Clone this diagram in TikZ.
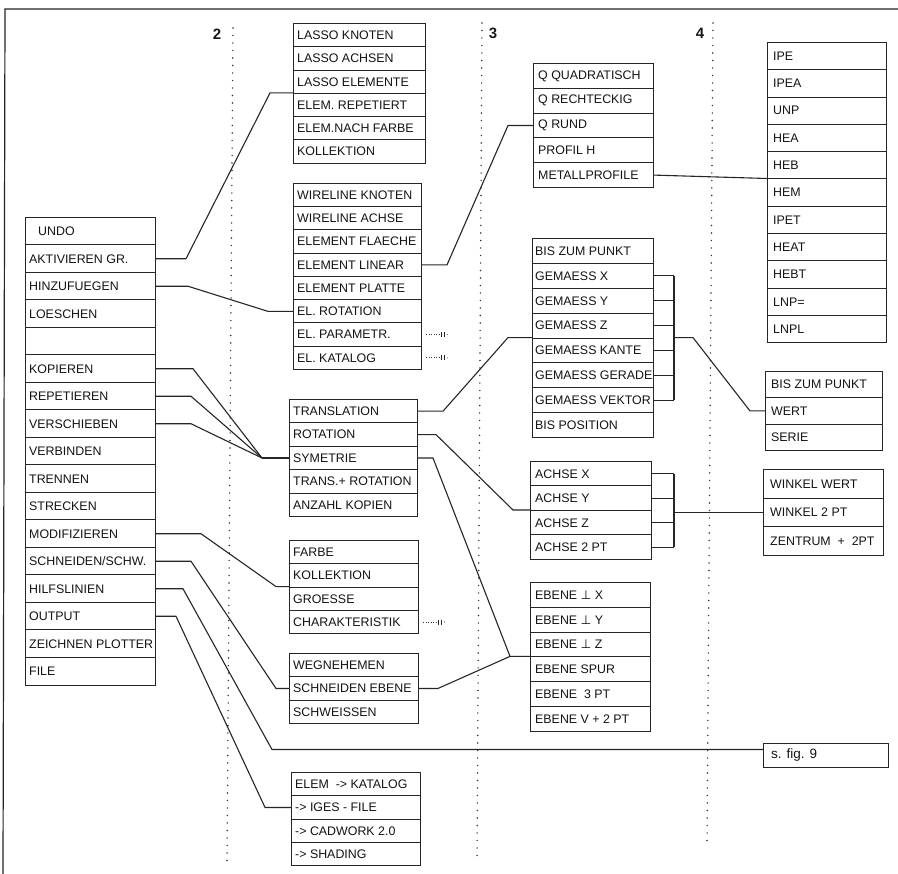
\documentclass[tikz,border=0pt]{standalone}
\usepackage{fontspec}
\setmainfont{Liberation Sans}
\newfontfamily\dejavu{DejaVu Sans}
\usetikzlibrary{calc}
\newcommand\perpsym{{\dejavu\char"22A5}}
% name, xleft, xright, ytop, rowheight, pad, list
\newcommand\stackbox[7]{%
  \foreach \txt [count=\i] in {#7} {%
    \node[rowbox, minimum width=#3-#2, minimum height=#5, anchor=north west] (#1\i) at (#2, {#4+(\i-1)*#5}) {};
    \node[rowtext, anchor=west] at ($(#1\i.west)+(#6,0)$) {\txt};
  }%
}
\newcommand\terminator[1]{%
  \draw[line width=.8pt, dash pattern=on 1pt off 1.6pt, draw=black!80] ($(#1.east)+(4,0)$) -- ++(14,0);
  \draw[line width=1.3pt, draw=black!85] ($(#1.east)+(19.5,-2.5)$) -- ++(0,5);
  \draw[line width=1.3pt, draw=black!85] ($(#1.east)+(22.5,-2.5)$) -- ++(0,5);
  \fill[black!70] ($(#1.east)+(25.5,0)$) circle (0.6);
}
\begin{document}
\begin{tikzpicture}[x=1pt,y=-1pt,
  rowbox/.style={draw=black!85, line width=1pt, inner sep=0pt, rectangle},
  rowtext/.style={inner sep=0pt, font=\fontsize{12.4}{14}\selectfont, text=black!92},
  conn/.style={draw=black!85, line width=1.1pt},
  guide/.style={draw=black!80, line width=1.6pt, dash pattern=on 0pt off 7.5pt, line cap=round},
  numlab/.style={font=\fontsize{15}{17}\selectfont\bfseries, text=black!90, inner sep=0pt}]
\useasboundingbox (0,0) rectangle (898,874);
\fill[white] (0,0) rectangle (898,874);

% frame
\draw[draw=black!85, line width=1.2pt] (898,9) -- (5,9) -- (3,874);

% guide lines
\draw[guide] (233,28) -- (227,862);
\draw[guide] (482,23) -- (477,862);
\draw[guide] (713,23) -- (707,842);
\node[numlab] (n2) at (217,34) {2};
\node[numlab] (n3) at (493,33) {3};
\node[numlab] (n4) at (700,33) {4};

% boxes
\stackbox{M}{25}{155}{217}{27.5}{4}{\hspace{9pt}UNDO, AKTIVIEREN GR., HINZUFUEGEN, LOESCHEN, {}, KOPIEREN, REPETIEREN, VERSCHIEBEN, VERBINDEN, TRENNEN, STRECKEN, MODIFIZIEREN, {SCHNEIDEN/SCHW.}, HILFSLINIEN, OUTPUT, ZEICHNEN PLOTTER, FILE}
\stackbox{A}{293}{425}{23}{23.3}{4}{LASSO KNOTEN, LASSO ACHSEN, LASSO ELEMENTE, ELEM. REPETIERT, ELEM.NACH FARBE, KOLLEKTION}
\stackbox{B}{293}{421}{183}{23.25}{4}{WIRELINE KNOTEN, WIRELINE ACHSE, ELEMENT FLAECHE, ELEMENT LINEAR, ELEMENT PLATTE, EL. ROTATION, EL. PARAMETR., EL. KATALOG}
\stackbox{C}{533}{653}{63}{24.8}{5}{Q QUADRATISCH, Q RECHTECKIG, Q RUND, PROFIL H, METALLPROFILE}
\stackbox{D}{289}{417}{399}{23.4}{4}{TRANSLATION, ROTATION, SYMETRIE, TRANS.+ ROTATION, ANZAHL KOPIEN}
\stackbox{E}{532}{653}{238}{24.9}{3}{BIS ZUM PUNKT, GEMAESS X, GEMAESS Y, GEMAESS Z, GEMAESS KANTE, GEMAESS GERADE, GEMAESS VEKTOR, BIS POSITION}
\stackbox{F}{765}{882}{371}{26.3}{6}{BIS ZUM PUNKT, WERT, SERIE}
\stackbox{G}{767}{886}{42}{27.3}{6}{IPE, IPEA, UNP, HEA, HEB, HEM, IPET, HEAT, HEBT, LNP=, LNPL}
\stackbox{H}{530}{651}{461}{24.5}{5}{ACHSE X, ACHSE Y, ACHSE Z, ACHSE 2 PT}
\stackbox{I}{763}{883}{469}{28.7}{7}{WINKEL WERT, WINKEL 2 PT, ZENTRUM~ +~ 2PT}
\stackbox{J}{530}{650}{582}{24.8}{5}{EBENE \perpsym{} X, EBENE \perpsym{} Y, EBENE \perpsym{} Z, EBENE SPUR, EBENE~ 3 PT, EBENE V + 2 PT}
\stackbox{L}{289}{418}{540}{23.3}{4}{FARBE, KOLLEKTION, GROESSE, CHARAKTERISTIK}
\stackbox{K}{289}{418}{653}{23.3}{4}{WEGNEHEMEN, SCHNEIDEN EBENE, SCHWEISSEN}
\stackbox{N}{291}{420}{772}{23.3}{4}{ELEM~ -> KATALOG, -> IGES - FILE, -> CADWORK 2.0, -> SHADING}

\node[rowbox, minimum width=125, minimum height=24, anchor=north west] (sfig) at (763,743) {};
\node[rowtext, font=\fontsize{13.5}{15}\selectfont, anchor=west] (sfigt) at ($(sfig.west)+(8,0)$) {s. fig. 9};

% terminators
\terminator{B7}
\terminator{B8}
\terminator{L4}

% connectors
\draw[conn] (M2.east) -- ++(30,0) -- ($(A4.north west)+(-23,0)$) -- (A4.north west);
\draw[conn] (M3.east) -- ++(32,0) -- ($(B6.west)+(-25,0)$) -- (B6.west);
\draw[conn] (B4.east) -- ++(25,0) -- ($(C3.west)+(-25,0)$) -- (C3.west);
\draw[conn] (C5.east) -- (G6.north west);

\coordinate (sj) at ($(D3.west)+(-27,0)$);
\draw[conn] (M6.east) -- ++(37,0) -- (sj);
\draw[conn] (M7.east) -- ++(35,0) -- (sj);
\draw[conn] (M8.east) -- ++(35,0) -- (sj);
\draw[conn] (sj) -- (D3.west);

\draw[conn] (D1.east) -- ++(25,0) -- ($(E5.north west)+(-24,0)$) -- (E5.north west);

\coordinate (ebx) at ($(E2.east)+(20,0)$);
\foreach \k in {2,...,7} { \draw[conn] (E\k.east) -- (E\k.east -| ebx); }
\draw[conn] (E2.east -| ebx) -- (E7.east -| ebx);
\draw[conn] (E5.north -| ebx) -- ++(19,0) -- ($(F2.west)+(-15,0)$) -- (F2.west);

\draw[conn] (D2.east) -- ++(18,0) -- ($(H3.north west)+(-17,0)$) -- (H3.north west);

\coordinate (hbx) at ($(H1.east)+(22,0)$);
\foreach \k in {1,...,4} { \draw[conn] (H\k.east) -- (H\k.east -| hbx); }
\draw[conn] (H1.east -| hbx) -- (H4.east -| hbx);
\draw[conn] (I2.west) -- (I2.west -| hbx);

\coordinate (ej) at ($(J4.north west)+(-20,0)$);
\draw[conn] (D3.east) -- ++(15,0) -- (ej) -- (J4.north west);
\draw[conn] (K2.east) -- ++(19,0) -- (ej);

\draw[conn] (M12.east) -- ++(45,0) -- ($(L3.north west)+(-13,0)$) -- (L3.north west);
\draw[conn] (M13.east) -- ++(35,0) -- ($(K2.west)+(-13,0)$) -- (K2.west);
\draw[conn] (M14.east) -- ++(27,0) -- ($(sfig.west)+(-491,-6)$) -- ($(sfig.west)+(0,-6)$);
\draw[conn] (M15.east) -- ++(20,0) -- ($(N2.west)+(-26,0)$) -- (N2.west);
\end{tikzpicture}
\end{document}
